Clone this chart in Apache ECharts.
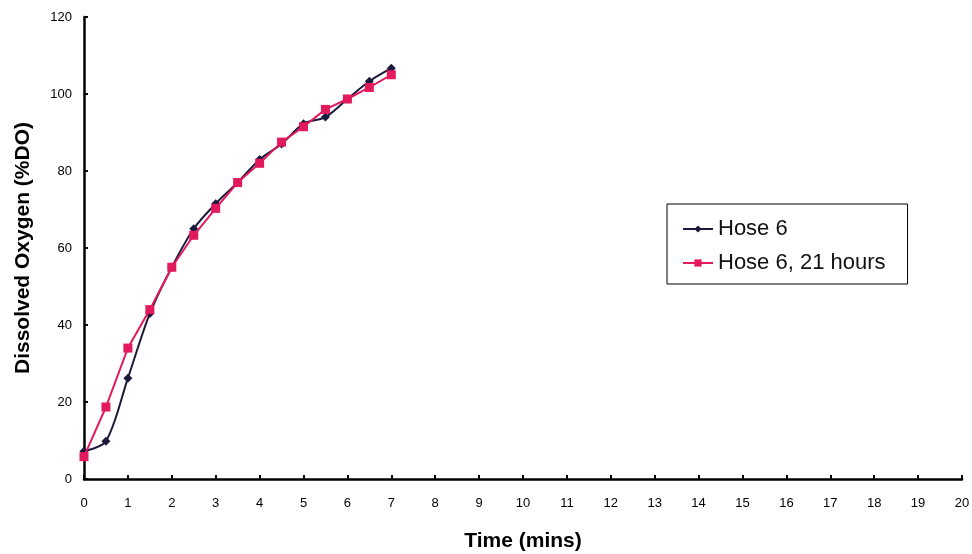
<!DOCTYPE html>
<html>
<head>
<meta charset="utf-8">
<script src="https://cdn.jsdelivr.net/npm/echarts@6/dist/echarts.min.js"></script>
<style>
  html, body { margin: 0; padding: 0; background: #fff; }
  #chart { width: 972px; height: 554px; }
</style>
</head>
<body>
<div id="chart"></div>
<script>
// time in minutes
var times = [0, 0.5, 1, 1.5, 2, 2.5, 3, 3.5, 4, 4.5, 5, 5.5, 6, 6.5, 7];
var hose6 = [7.2, 9.8, 26.2, 43, 55, 65, 71.5, 77, 83, 87, 92.3, 94, 98.7, 103.3, 106.7];
var hose6After21h = [5.8, 18.7, 34, 44, 55, 63.3, 70.3, 77, 82, 87.5, 91.5, 96, 98.7, 101.7, 105];

function pairs(ys) {
  return times.map(function (t, i) { return [t, ys[i]]; });
}

var chart = echarts.init(document.getElementById('chart'));
var option = {
  backgroundColor: '#fff',
  textStyle: { fontFamily: 'Liberation Sans, Arial, sans-serif' },
  grid: { left: 84, right: 10, top: 17, bottom: 75, outerBoundsMode: 'none' },
  legend: {
    orient: 'vertical',
    left: 667,
    top: 204,
    padding: [14, 22, 10, 15],
    itemGap: 12,
    itemWidth: 30,
    itemHeight: 9,
    backgroundColor: '#fff',
    borderColor: '#000',
    borderWidth: 1,
    textStyle: { fontSize: 22, color: '#111' },
    data: ['Hose 6', 'Hose 6, 21 hours']
  },
  xAxis: {
    type: 'value',
    min: 0,
    max: 20,
    interval: 1,
    name: 'Time (mins)',
    nameLocation: 'middle',
    nameGap: 52,
    nameTextStyle: { fontSize: 21, fontWeight: 'bold', color: '#000' },
    axisLine: { lineStyle: { color: '#000', width: 2.5 } },
    axisTick: { inside: true, length: 4, lineStyle: { color: '#000', width: 2 } },
    axisLabel: { fontSize: 13, color: '#000', margin: 18 },
    splitLine: { show: false }
  },
  yAxis: {
    type: 'value',
    min: 0,
    max: 120,
    interval: 20,
    name: 'Dissolved Oxygen (%DO)',
    nameLocation: 'middle',
    nameGap: 50,
    nameTextStyle: { fontSize: 21, fontWeight: 'bold', color: '#000' },
    axisLine: { show: true, lineStyle: { color: '#000', width: 2.5 } },
    axisTick: { show: true, inside: true, length: 4, lineStyle: { color: '#000', width: 2 } },
    axisLabel: { fontSize: 13, color: '#000', margin: 12 },
    splitLine: { show: false }
  },
  series: [
    {
      name: 'Hose 6',
      type: 'line',
      data: pairs(hose6),
      smooth: 0.3,
      symbol: 'diamond',
      symbolSize: 9,
      color: '#1c1a3c',
      lineStyle: { width: 2, color: '#1c1a3c' },
      itemStyle: { color: '#1c1a3c' },
      z: 3
    },
    {
      name: 'Hose 6, 21 hours',
      type: 'line',
      data: pairs(hose6After21h),
      symbol: 'rect',
      symbolSize: 9,
      color: '#e3195e',
      lineStyle: { width: 2, color: '#e3195e' },
      itemStyle: { color: '#e3195e' },
      z: 4
    }
  ]
};
chart.setOption(option);
</script>
</body>
</html>
